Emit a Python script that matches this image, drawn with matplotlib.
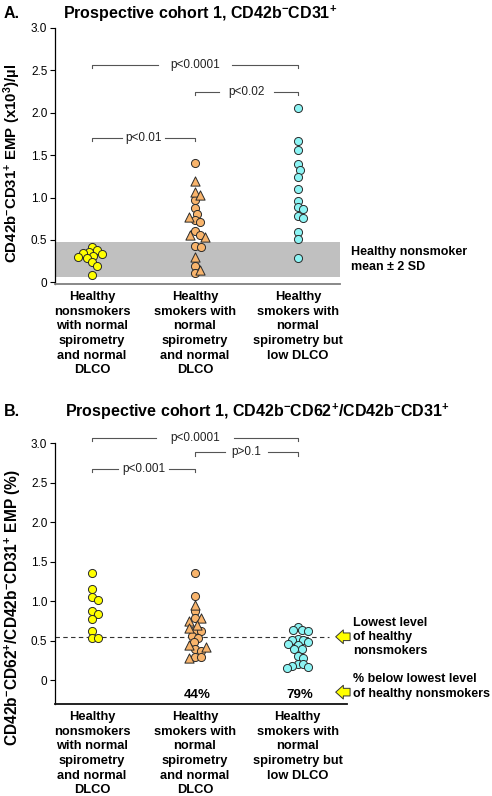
import numpy as np
import matplotlib.pyplot as plt

plt.rcParams['font.family'] = ['Liberation Sans', 'DejaVu Sans']
plt.rcParams['mathtext.fontset'] = 'custom'
plt.rcParams['mathtext.rm'] = 'Liberation Sans'
plt.rcParams['mathtext.bf'] = 'Liberation Sans:bold'
plt.rcParams['mathtext.it'] = 'Liberation Sans:italic'

groups = ['Healthy\nnonsmokers\nwith normal\nspirometry\nand normal\nDLCO',
          'Healthy\nsmokers with\nnormal\nspirometry\nand normal\nDLCO',
          'Healthy\nsmokers with\nnormal\nspirometry but\nlow DLCO']
yticks = [0, 0.5, 1.0, 1.5, 2.0, 2.5, 3.0]

# panel A: CD42b-CD31+ EMP (x10^3/ul)
a_nonsmokers = [0.42, 0.38, 0.36, 0.34, 0.33, 0.31, 0.30, 0.29, 0.24, 0.19, 0.09]
a_smokers_circ = [1.41, 0.97, 0.875, 0.81, 0.74, 0.71, 0.60, 0.56, 0.43, 0.42, 0.19, 0.11]
a_smokers_tri = [1.20, 1.07, 1.03, 0.77, 0.56, 0.53, 0.30, 0.14]
a_lowdlco = [2.06, 1.67, 1.56, 1.39, 1.33, 1.24, 1.10, 0.96, 0.89, 0.87, 0.78, 0.76,
             0.59, 0.51, 0.29]
a_band = (0.06, 0.48)
a_brackets = [(1, 2, 1.70, 'p<0.01'), (2, 3, 2.24, 'p<0.02'), (1, 3, 2.56, 'p<0.0001')]

# panel B: CD42b-CD62+/CD42b-CD31+ EMP (%)
b_nonsmokers = [1.36, 1.16, 1.05, 1.02, 0.87, 0.84, 0.78, 0.62, 0.54, 0.54]
b_smokers_circ = [1.36, 1.07, 0.87, 0.79, 0.63, 0.62, 0.56, 0.54, 0.48, 0.40, 0.37,
                  0.30, 0.29]
b_smokers_tri = [0.95, 0.79, 0.75, 0.70, 0.66, 0.44, 0.42, 0.28]
b_lowdlco = [0.67, 0.63, 0.63, 0.62, 0.52, 0.51, 0.51, 0.48, 0.46, 0.44, 0.40, 0.39,
             0.31, 0.28, 0.20, 0.20, 0.18, 0.17, 0.15]
b_lowest = 0.55
b_pct = ['44%', '79%']
b_brackets = [(1, 2, 2.67, 'p<0.001'), (2, 3, 2.88, 'p>0.1'), (1, 3, 3.06, 'p<0.0001')]

yellow = '#ffff00'
orange = '#f8b46c'
cyan = '#8cf4f4'
edge = '#2a2a2a'


def swarm(ax, xc, vals, d=6.0):
    # simple beeswarm done in pixel space
    tr = ax.transData
    pts = tr.transform(np.column_stack([np.full(len(vals), xc), vals]))
    steps = np.concatenate([[0], np.ravel(np.column_stack([np.arange(1, 60), -np.arange(1, 60)]))]) * 0.5
    placed = []
    for px, py in pts:
        for s in steps:
            if all((px + s - qx) ** 2 + (py - qy) ** 2 >= d * d for qx, qy in placed):
                break
        placed.append((px + s, py))
    return tr.inverted().transform(np.array(placed))[:, 0]


def bracket(ax, x1, x2, y, label, half_gap, tick):
    xm = (x1 + x2) / 2
    kw = dict(color='#555555', lw=0.8, clip_on=False)
    ax.plot([x1, x1, xm - half_gap], [y - tick, y, y], **kw)
    ax.plot([xm + half_gap, x2, x2], [y, y, y - tick], **kw)
    ax.text(xm, y, label, ha='center', va='center', fontsize=8.5, color='#222222', clip_on=False)


def style_axes(ax, ylim, xline_color):
    ax.set_ylim(*ylim)
    ax.spines['top'].set_visible(False)
    ax.spines['right'].set_visible(False)
    ax.spines['left'].set_linewidth(0.9)
    ax.spines['bottom'].set_color(xline_color)
    ax.spines['bottom'].set_linewidth(1.3)
    ax.set_yticks(yticks)
    ax.set_yticklabels(['0' if v == 0 else '%.1f' % v for v in yticks], fontsize=8.5)
    ax.tick_params(axis='y', direction='out', length=3.5, width=0.8, pad=2)
    ax.set_xticks([1, 2, 3])
    ax.set_xticklabels(groups, fontweight='bold', fontsize=9.3, linespacing=1.3, va='top')
    ax.tick_params(axis='x', length=0, pad=5)


def draw_groups(ax, g1, g2c, g2t, g3):
    mk = dict(edgecolors=edge, linewidths=0.7, zorder=3)
    x1 = swarm(ax, 1, g1)
    ax.scatter(x1, g1, s=34, c=yellow, **mk)
    both = g2c + g2t
    x2 = swarm(ax, 2, both)
    n = len(g2c)
    ax.scatter(x2[:n], g2c, s=34, c=orange, **mk)
    ax.scatter(x2[n:], g2t, s=44, marker='^', c=orange, **mk)
    x3 = swarm(ax, 3, g3, d=5.5)
    ax.scatter(x3, g3, s=34, c=cyan, **mk)


fig = plt.figure(figsize=(4.92, 7.96), dpi=100)

# ---- panel A
axA = fig.add_axes([55 / 492, 512 / 796, 285 / 492, 256 / 796])
axA.set_xlim(0.64, 3.41)
style_axes(axA, (-0.02, 3.0), '#7f7f7f')
axA.axhspan(a_band[0], a_band[1], color='#c0c0c0', lw=0, zorder=0)
draw_groups(axA, a_nonsmokers, a_smokers_circ, a_smokers_tri, a_lowdlco)
for (x1, x2, y, lab), g in zip(a_brackets, [0.205, 0.27, 0.36]):
    bracket(axA, x1, x2, y, lab, g, 0.03)
axA.set_ylabel(r'CD42b$^{\mathbf{-}}$CD31$^{\mathbf{+}}$ EMP (x10$^{\mathbf{3}}$)/µl',
               fontweight='bold', fontsize=10.8)
axA.yaxis.set_label_coords(-0.112, 0.47)
axA.text(3.52, sum(a_band) / 2, 'Healthy nonsmoker\nmean ± 2 SD', fontweight='bold',
         fontsize=9, ha='left', va='center', linespacing=1.25, clip_on=False)

# ---- panel B
axB = fig.add_axes([55 / 492, 92 / 796, 292 / 492, 261 / 796])
axB.set_xlim(0.64, 3.48)
style_axes(axB, (-0.3, 3.0), '#111111')
axB.axhline(b_lowest, xmax=0.94, color='#333333', lw=0.8, ls=(0, (4, 3)), zorder=1)
draw_groups(axB, b_nonsmokers, b_smokers_circ, b_smokers_tri, b_lowdlco)
for (x1, x2, y, lab), g in zip(b_brackets, [0.25, 0.21, 0.38]):
    bracket(axB, x1, x2, y, lab, g, 0.04)
axB.set_ylabel(r'CD42b$^{\mathbf{-}}$CD62$^{\mathbf{+}}$/CD42b$^{\mathbf{-}}$CD31$^{\mathbf{+}}$ EMP (%)',
               fontweight='bold', fontsize=11.2)
axB.yaxis.set_label_coords(-0.11, 0.37)
for x, t in zip([2, 3], b_pct):
    axB.text(x + 0.02, -0.19, t, fontweight='bold', fontsize=9.5, ha='center', va='center')

arrow = dict(arrowstyle='simple,head_length=0.5,head_width=0.9,tail_width=0.5',
             fc=yellow, ec='#333333', lw=0.7, shrinkA=0, shrinkB=0, mutation_scale=11)
for y in [b_lowest, -0.15]:
    axB.annotate('', xy=(3.37, y), xytext=(3.51, y), arrowprops=arrow, annotation_clip=False)
axB.text(3.54, b_lowest, 'Lowest level\nof healthy\nnonsmokers', fontweight='bold',
         fontsize=9, ha='left', va='center', linespacing=1.2, clip_on=False)
axB.text(3.54, -0.08, '% below lowest level\nof healthy nonsmokers', fontweight='bold',
         fontsize=9, ha='left', va='center', linespacing=1.35, clip_on=False)

# panel titles
fig.text(0.008, 1 - 14 / 796, 'A.', fontweight='bold', fontsize=11.5, va='center')
fig.text(63 / 492, 1 - 14 / 796, r'Prospective cohort 1, CD42b$^{\mathbf{-}}$CD31$^{\mathbf{+}}$',
         fontweight='bold', fontsize=11.5, va='center')
fig.text(0.008, 1 - 412 / 796, 'B.', fontweight='bold', fontsize=11.5, va='center')
fig.text(65 / 492, 1 - 412 / 796,
         r'Prospective cohort 1, CD42b$^{\mathbf{-}}$CD62$^{\mathbf{+}}$/CD42b$^{\mathbf{-}}$CD31$^{\mathbf{+}}$',
         fontweight='bold', fontsize=11.5, va='center')

fig.savefig('out.png', dpi=100)
